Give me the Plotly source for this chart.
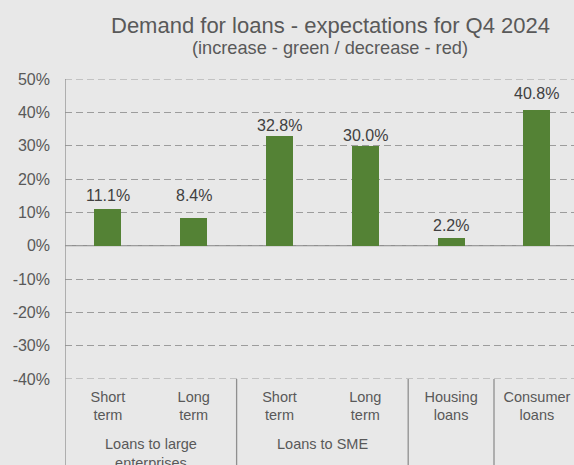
import plotly.graph_objects as go

# Survey results: expected change in loan demand (net %, Q4 2024)
categories = ["Short<br>term", "Long<br>term", "Short<br>term", "Long<br>term",
              "Housing<br>loans", "Consumer<br>loans"]
groups = ["Loans to large<br>enterprises", "Loans to SME"]
group_centers = [0.5, 2.5]
values = [11.1, 8.4, 32.8, 30.0, 2.2, 40.8]
y_ticks = [-40, -30, -20, -10, 0, 10, 20, 30, 40, 50]
y_tick_labels = [f"{t}%" for t in y_ticks]

# vertical lift of each value label above its bar (px)
label_lift = [3, 12, 0, 0, 2, 6]

GREEN = "#548235"
BG = "#e8e8e8"
TXT = "#595959"
GRID = "#9c9c9c"
AXIS = "#8f8f8f"
FONT = "Liberation Sans, Arial, sans-serif"
DASH = "7px,4px"

W, H = 574, 465
M_L, M_T, M_B = 65, 79, 86
plot_h = H - M_T - M_B
cat_px = 85.8
x_span = (W - M_L) / cat_px

x = list(range(len(values)))

fig = go.Figure()
fig.add_trace(go.Bar(
    x=x, y=values, width=0.316,
    marker=dict(color=GREEN, line=dict(width=0)),
    hoverinfo="skip", showlegend=False,
))

annotations = []
for xi, v, lift in zip(x, values, label_lift):
    annotations.append(dict(
        x=xi, y=v, xref="x", yref="y", text=f"{v:.1f}%", showarrow=False,
        yanchor="bottom", yshift=lift, font=dict(size=16, color="#404040", family=FONT),
    ))
for gx, gt in zip(group_centers, groups):
    annotations.append(dict(
        x=gx, y=1 - (434 - M_T) / plot_h, xref="x", yref="paper", text=gt,
        showarrow=False, yanchor="top", xanchor="center",
        font=dict(size=14.5, color=TXT, family=FONT),
    ))

# chart title and subtitle
title_x = (330 - M_L) / (W - M_L)
annotations.append(dict(
    x=title_x, y=1 + (M_T - 25.5) / plot_h, xref="paper", yref="paper",
    text="Demand for loans - expectations for Q4 2024", showarrow=False,
    xanchor="center", yanchor="middle", font=dict(size=22, color=TXT, family=FONT),
))
annotations.append(dict(
    x=title_x, y=1 + (M_T - 47.5) / plot_h, xref="paper", yref="paper",
    text="(increase - green / decrease - red)", showarrow=False,
    xanchor="center", yanchor="middle", font=dict(size=18.2, color=TXT, family=FONT),
))

bottom = -M_B / plot_h
shapes = []
# dashed gridlines at the two ends of the value range
for gy in (y_ticks[0], y_ticks[-1]):
    shapes.append(dict(type="line", xref="paper", yref="y", x0=0, x1=1, y0=gy, y1=gy,
                       line=dict(color=GRID, width=1.2, dash=DASH), layer="below"))
shapes += [
    # left axis line running down through the category labels
    dict(type="line", xref="x", yref="paper", x0=-0.5, x1=-0.5, y0=bottom, y1=1,
         line=dict(color=AXIS, width=1.3)),
    # zero line
    dict(type="line", xref="paper", yref="y", x0=0, x1=1, y0=0, y1=0,
         line=dict(color=AXIS, width=1.3), layer="below"),
]
for bx in [1.5, 3.5, 4.5]:
    shapes.append(dict(type="line", xref="x", yref="paper", x0=bx, x1=bx,
                       y0=bottom, y1=0, line=dict(color=AXIS, width=1.3)))

fig.update_layout(
    width=W, height=H,
    margin=dict(l=M_L, r=0, t=M_T, b=M_B, pad=0),
    paper_bgcolor=BG, plot_bgcolor=BG,
    font=dict(family=FONT, color=TXT),
    bargap=0,
    annotations=annotations,
    shapes=shapes,
    xaxis=dict(
        range=[-0.5, -0.5 + x_span], tickvals=x, ticktext=categories,
        showgrid=False, zeroline=False, showline=False, ticks="",
        tickfont=dict(size=14.5, color=TXT, family=FONT),
        ticklabelstandoff=7, fixedrange=True,
    ),
    yaxis=dict(
        range=[-40, 50], tickmode="array", tickvals=y_ticks, ticktext=y_tick_labels,
        showgrid=True, gridcolor=GRID, gridwidth=1.2, griddash=DASH,
        zeroline=False, showline=False, ticks="",
        tickfont=dict(size=16, color=TXT, family=FONT),
        ticklabelstandoff=14, fixedrange=True,
    ),
)

fig.write_html("out.html")
